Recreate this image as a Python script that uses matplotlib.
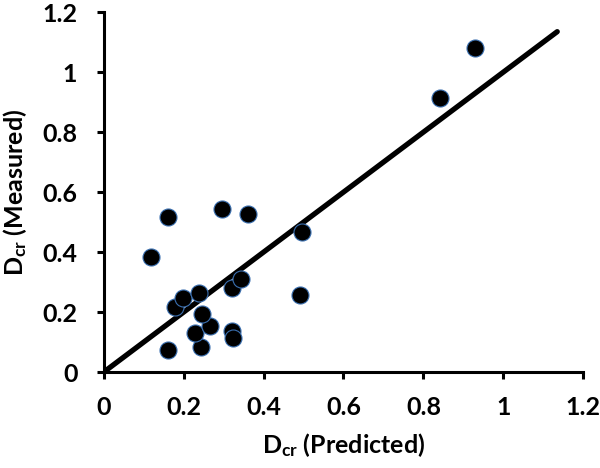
"""Measured vs predicted D_cr scatter with 1:1 line."""
import matplotlib
matplotlib.use("Agg")
import matplotlib.pyplot as plt
import numpy as np

predicted = [0.161, 0.243, 0.228, 0.266, 0.247, 0.322, 0.324, 0.178, 0.199, 0.238,
             0.322, 0.343, 0.491, 0.495, 0.117, 0.160, 0.295, 0.361, 0.842, 0.928]
measured = [0.073, 0.084, 0.131, 0.153, 0.192, 0.137, 0.112, 0.218, 0.248, 0.262,
            0.279, 0.309, 0.256, 0.468, 0.384, 0.516, 0.543, 0.526, 0.914, 1.082]
line_end = 1.135
ticks = [0, 0.2, 0.4, 0.6, 0.8, 1, 1.2]
tick_labels = ["0", "0.2", "0.4", "0.6", "0.8", "1", "1.2"]

plt.rcParams["font.family"] = ["Lato", "DejaVu Sans"]
plt.rcParams["font.weight"] = "bold"
plt.rcParams["mathtext.fontset"] = "custom"
plt.rcParams["mathtext.rm"] = "Lato:bold"
plt.rcParams["mathtext.it"] = "Lato:bold"
plt.rcParams["mathtext.bf"] = "Lato:bold"

fig = plt.figure(figsize=(6, 4.68), dpi=100)
ax = fig.add_axes([0.173, 0.205, 0.799, 0.769])

ax.plot([0, line_end], [0, line_end], color="black", lw=3.8,
        solid_capstyle="round", zorder=2)
ax.scatter(predicted, measured, s=150, c="black", edgecolors="#3a6fb0",
           linewidths=0.8, zorder=3)

ax.set_xlim(0, 1.2)
ax.set_ylim(0, 1.2)
ax.set_xticks(ticks)
ax.set_yticks(ticks)
ax.set_xticklabels(tick_labels)
ax.set_yticklabels(tick_labels)
for s in ["top", "right"]:
    ax.spines[s].set_visible(False)
for s in ["left", "bottom"]:
    ax.spines[s].set_linewidth(2.2)
ax.tick_params(width=2.2, length=5, labelsize=18)
ax.tick_params(axis="x", pad=12)
ax.tick_params(axis="y", pad=14)
for lab in ax.get_xticklabels() + ax.get_yticklabels():
    lab.set_fontweight("bold")

ax.set_xlabel(r"D$_{\mathrm{cr}}$ (Predicted)", fontsize=18, fontweight="bold",
              labelpad=9)
ax.set_ylabel(r"D$_{\mathrm{cr}}$ (Measured)", fontsize=18, fontweight="bold",
              labelpad=10)

fig.savefig("out.png", dpi=100)
